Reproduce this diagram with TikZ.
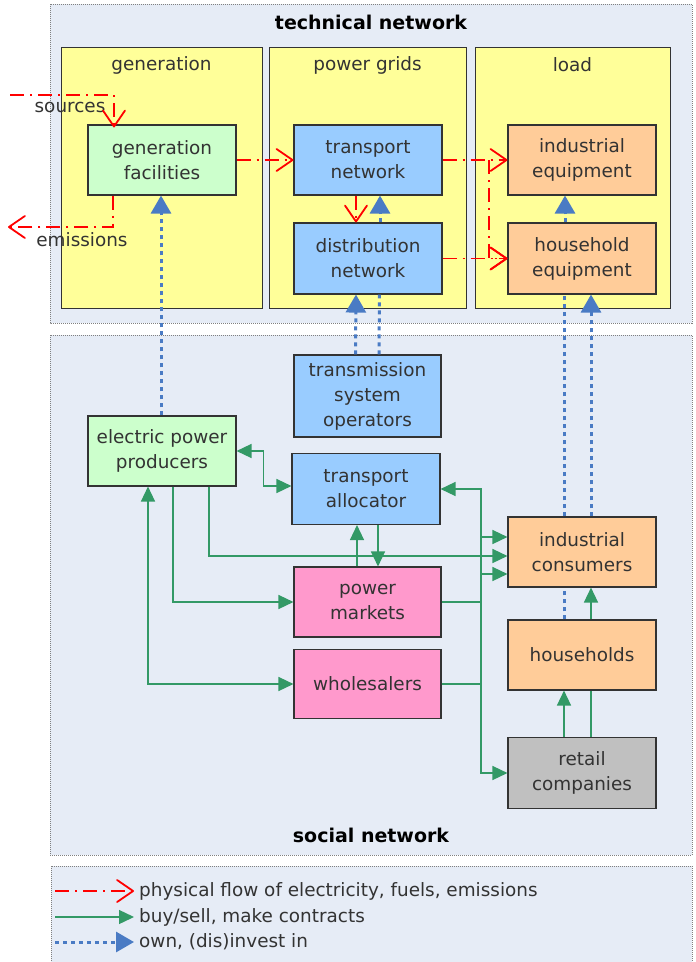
\documentclass[tikz,border=0pt]{standalone}
\usepackage{fontspec}
\setmainfont{DejaVu Sans}
\usetikzlibrary{arrows.meta,calc}

\definecolor{panelbg}{HTML}{E6ECF6}
\definecolor{layerfill}{HTML}{FFFF99}
\definecolor{greenbox}{HTML}{CCFFCC}
\definecolor{bluebox}{HTML}{99CCFF}
\definecolor{orangebox}{HTML}{FFCC99}
\definecolor{pinkbox}{HTML}{FF99CC}
\definecolor{greybox}{HTML}{C0C0C0}
\definecolor{flowred}{HTML}{FF0000}
\definecolor{dealgreen}{HTML}{339966}
\definecolor{ownblue}{HTML}{4A7BC4}
\definecolor{textgrey}{HTML}{333333}
\definecolor{rimgrey}{HTML}{808080}

\newcommand{\boxfont}{\fontsize{18.4}{25}\selectfont}
\newcommand{\headfont}{\fontsize{19}{23}\selectfont\bfseries}

\tikzset{
  network/.style={draw=rimgrey, dash pattern=on 1pt off 1pt, line width=0.8pt, fill=panelbg},
  layer/.style={draw=textgrey, line width=1pt, fill=layerfill},
  actor/.style={draw=textgrey, line width=1.1pt, minimum width=148pt, minimum height=70pt,
                align=center, text=textgrey, font=\boxfont, inner sep=0pt},
  caption/.style={text=textgrey, font=\boxfont, inner sep=0pt},
  heading/.style={text=black, font=\headfont, inner sep=0pt},
  rtip/.tip={Straight Barb[length=16pt,width=22pt,line width=1.8pt,round=false]},
  btip/.tip={Triangle[length=18pt,width=20pt]},
  gtip/.tip={Triangle[length=15pt,width=14pt]},
  flow/.style={flowred, line width=1.8pt, dash pattern=on 14pt off 6pt on 2pt off 6pt, -rtip},
  ownline/.style={ownblue, line width=3pt, dash pattern=on 4pt off 4pt},
  own/.style={ownline, -btip},
  dealline/.style={dealgreen, line width=1.4pt},
  deal/.style={dealline, -gtip},
  dealboth/.style={dealline, gtip-gtip},
}

\begin{document}
\begin{tikzpicture}[x=1pt, y=-1pt]
  \path[use as bounding box] (0,0) rectangle (696,962);
  \clip (0,0) rectangle (696,962);

  % ---- the three network areas ----
  \path[network] (50,4) rectangle (692,323);
  \path[network] (50,335) rectangle (692,855);
  \path[network] (51,866) rectangle (692,980);

  \node[heading] (techtitle) at (371,22) {technical network};
  \node[heading] (socialtitle) at (371,835) {social network};

  % ---- layers of the technical network ----
  \path[layer] (61,47) rectangle (262,308);
  \path[layer] (269,47) rectangle (466,308);
  \path[layer] (475,47) rectangle (670,308);
  \node[caption] (gentitle) at (161.5,65) {generation};
  \node[caption] (gridtitle) at (367.5,65) {power grids};
  \node[caption] (loadtitle) at (572.5,65) {load};

  % ---- technical components ----
  \node[actor, fill=greenbox]  (genfac)  at (162,160)   {generation\\facilities};
  \node[actor, fill=bluebox]   (transnet) at (368,160)  {transport\\network};
  \node[actor, fill=bluebox, minimum height=71pt] (distnet) at (368,258.5) {distribution\\network};
  \node[actor, fill=orangebox] (indeq)   at (582,160)   {industrial\\equipment};
  \node[actor, fill=orangebox, minimum height=71pt] (houseq) at (582,258.5) {household\\equipment};

  % ---- social actors ----
  \node[actor, fill=bluebox, minimum width=147pt, minimum height=82pt] (tso) at (367.5,396) {transmission\\system\\operators};
  \node[actor, fill=greenbox]  (epp)     at (162,451)   {electric power\\producers};
  \node[actor, fill=bluebox, minimum height=71pt] (talloc) at (366,489) {transport\\allocator};
  \node[actor, fill=pinkbox, minimum width=147pt]   (pmkt)  at (367.5,602) {power\\markets};
  \node[actor, fill=pinkbox, minimum width=147pt, minimum height=69pt] (whole) at (367.5,684) {wholesalers};
  \node[actor, fill=orangebox] (indcons) at (582,552)   {industrial\\consumers};
  \node[actor, fill=orangebox] (households) at (582,655) {households};
  \node[actor, fill=greybox, minimum height=71pt] (retail) at (582,773) {retail\\companies};

  % ---- physical flows ----
  \coordinate (src) at (10,95);
  \coordinate (emi) at (8,227);
  \coordinate (branch) at (489,160);
  \node[caption] (srclabel) at (70,107) {sources};
  \node[caption] (emilabel) at (82,240) {emissions};
  \draw[flow] (src) -| ([xshift=-48pt,yshift=-3pt]genfac.north);
  \draw[flow] ([xshift=-49pt]genfac.south) |- (emi);
  \draw[flow] (genfac.east) -- (transnet.west);
  \draw[flow] ([xshift=-12pt]transnet.south) -- ([xshift=-12pt]distnet.north);
  \draw[flow] (transnet.east) -- (indeq.west);
  \draw[flow] (branch) |- (houseq.west);
  \draw[flow] (distnet.east) -- (houseq.west);

  % ---- ownership / investment ----
  \draw[own] ([xshift=-1pt]epp.north) -- ([xshift=-1pt]genfac.south);
  \draw[own] ([xshift=12pt]distnet.north) -- ([xshift=12pt]transnet.south);
  \draw[own] ([xshift=-12pt]tso.north) -- ([xshift=-12pt]distnet.south);
  \draw[ownline] ([xshift=11.5pt]tso.north) -- ([xshift=11.5pt]distnet.south);
  \draw[own] ([xshift=-17pt]houseq.north) -- ([xshift=-17pt]indeq.south);
  \draw[own] ([xshift=9pt]indcons.north) -- ([xshift=9pt]houseq.south);
  \draw[ownline] ([xshift=-18pt]indcons.north) -- ([xshift=-18pt]houseq.south);
  \draw[ownline] ([xshift=-18pt]households.north) -- ([xshift=-18pt]indcons.south);

  % ---- contracts ----
  \coordinate (bus) at (481,489);
  \draw[dealboth] (epp.east) -- ++(27,0) |- ([yshift=3pt]talloc.west);
  \draw[dealboth] (talloc.east) -- (bus) |- (retail.west);
  \draw[deal] ([yshift=-22pt]indcons.west -| bus) -- ([yshift=-22pt]indcons.west);
  \draw[deal] ([yshift=15pt]indcons.west -| bus) -- ([yshift=15pt]indcons.west);
  \draw[dealline] (pmkt.east) -- (pmkt.east -| bus);
  \draw[dealline] (whole.east) -- (whole.east -| bus);
  \draw[deal] ([xshift=47pt]epp.south) |- ([yshift=-4pt]indcons.west);
  \draw[deal] ([xshift=11pt]epp.south) |- (pmkt.west);
  \draw[dealboth] ([xshift=-14pt]epp.south) |- (whole.west);
  \draw[deal] ([xshift=-10.5pt]pmkt.north) -- ([xshift=-10.5pt]pmkt.north |- talloc.south);
  \draw[deal] ([xshift=12pt]talloc.south) -- ([xshift=12pt]talloc.south |- pmkt.north);
  \draw[deal] ([xshift=-18pt]retail.north) -- ([xshift=-18pt]households.south);
  \draw[dealline] ([xshift=9pt]retail.north) -- ([xshift=9pt]households.south);
  \draw[deal] ([xshift=9pt]households.north) -- ([xshift=9pt]indcons.south);

  % ---- legend ----
  \coordinate (la) at (55,891);
  \coordinate (lb) at (134,891);
  \coordinate (lc) at (55,917);
  \coordinate (ld) at (134,917);
  \coordinate (le) at (55,942);
  \coordinate (lf) at (134,942);
  \draw[flow] (la) -- (lb);
  \draw[deal] (lc) -- (ld);
  \draw[own] (le) -- (lf);
  \node[caption, anchor=west] (legflow) at (139,891) {physical flow of electricity, fuels, emissions};
  \node[caption, anchor=west] (legdeal) at (139,917) {buy/sell, make contracts};
  \node[caption, anchor=west] (legown) at (139,942) {own, (dis)invest in};
\end{tikzpicture}
\end{document}
